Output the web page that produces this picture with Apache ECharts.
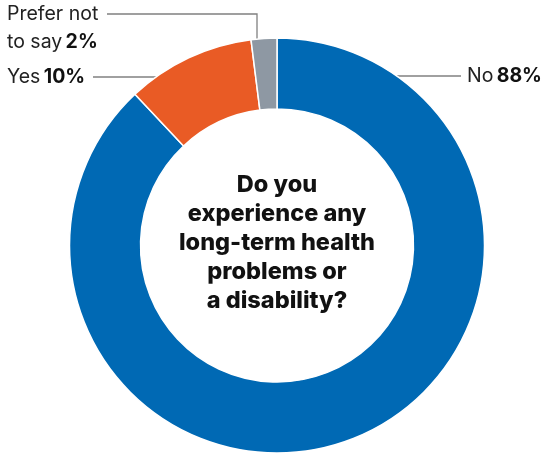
<!DOCTYPE html>
<html>
<head>
<meta charset="utf-8">
<script src="https://cdn.jsdelivr.net/npm/echarts@6/dist/echarts.min.js"></script>
<style>
  html, body { margin: 0; padding: 0; background: #fff; }
  #chart { width: 544px; height: 456px; }
</style>
</head>
<body>
<div id="chart"></div>
<script>
// Survey answers, clockwise from 12 o'clock
const categories = ['No', 'Yes', 'Prefer not to say'];
const shares = [88, 10, 2];
const sliceColors = ['#0069b4', '#e95b25', '#8e98a3'];
const question = ['Do you', 'experience any', 'long-term health', 'problems or', 'a disability?'];

const cx = 277, cy = 245.5, rIn = 136.5, rOut = 207.5;
const labelFont = 'Inter';
const labelSize = 19.5;
const lineColor = '#808080';

const chart = echarts.init(document.getElementById('chart'), null, { renderer: 'canvas' });

function pct(v) { return v + '%'; }

const richStyles = {
  n: { fontFamily: labelFont, fontSize: labelSize, fill: '#222', lineHeight: 28 },
  b: { fontFamily: labelFont, fontSize: labelSize, fontWeight: 'bold', fill: '#111', lineHeight: 28 }
};

chart.setOption({
  animation: false,
  backgroundColor: '#ffffff',
  series: [{
    type: 'pie',
    center: [cx, cy],
    radius: [rIn, rOut],
    startAngle: 90,
    clockwise: true,
    z: 2,
    label: { show: false },
    labelLine: { show: false },
    itemStyle: { borderColor: '#ffffff', borderWidth: 1.5 },
    data: categories.map((c, i) => ({ name: c, value: shares[i], itemStyle: { color: sliceColors[i] } }))
  }],
  graphic: [
    // leader lines
    { type: 'polyline', z: 1, shape: { points: [[397, 76], [461, 76]] }, style: { stroke: lineColor, lineWidth: 1.3 } },
    { type: 'polyline', z: 1, shape: { points: [[93, 77], [158, 77]] }, style: { stroke: lineColor, lineWidth: 1.3 } },
    { type: 'polyline', z: 1, shape: { points: [[107, 14], [257, 14], [257, 40]] }, style: { stroke: lineColor, lineWidth: 1.3, fill: null } },
    // slice labels
    {
      type: 'text', left: 467, top: 66,
      style: { text: '{n|' + categories[0] + '} {b|' + pct(shares[0]) + '}', rich: richStyles }
    },
    {
      type: 'text', left: 7, top: 67,
      style: { text: '{n|' + categories[1] + '} {b|' + pct(shares[1]) + '}', rich: richStyles }
    },
    {
      type: 'text', left: 7, top: 4,
      style: { text: '{n|Prefer not}\n{n|to say} {b|' + pct(shares[2]) + '}', rich: richStyles }
    },
    // question in the hole
    {
      type: 'text', x: cx, y: 243,
      style: {
        text: question.join('\n'),
        fontFamily: 'Inter', fontWeight: 800, fontSize: 23.5, lineHeight: 29,
        fill: '#111', align: 'center', verticalAlign: 'middle'
      }
    }
  ]
});
</script>
</body>
</html>
